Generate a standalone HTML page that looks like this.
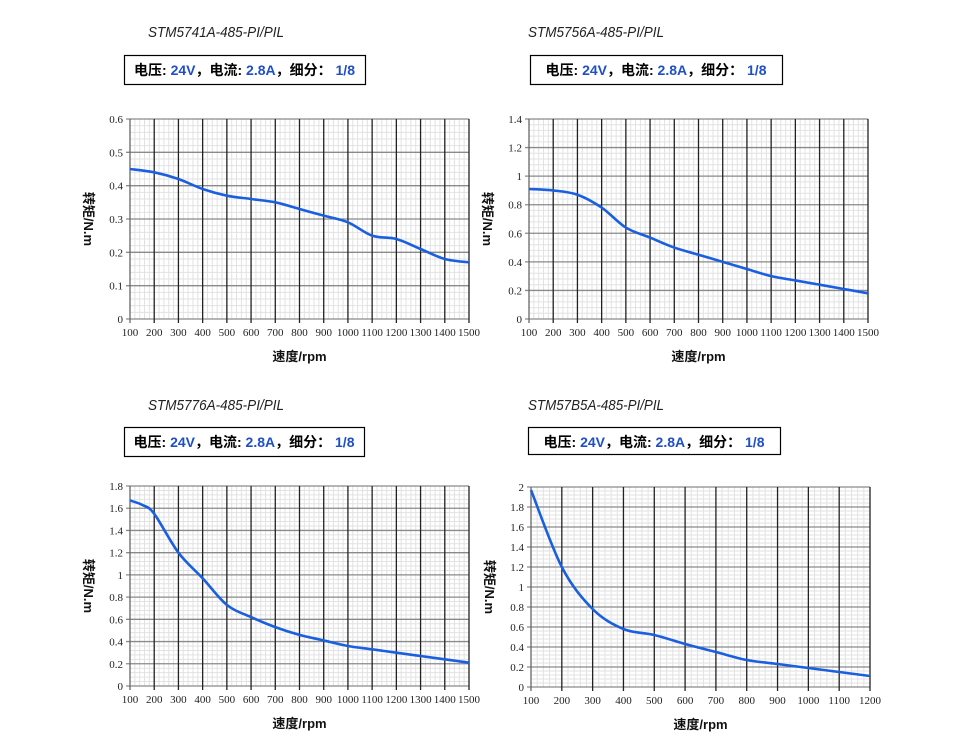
<!DOCTYPE html>
<html><head><meta charset="utf-8"><style>
body{margin:0;background:#fff;width:957px;height:752px;overflow:hidden}
svg{display:block}
</style></head><body>
<svg id="s" width="957" height="752" xmlns="http://www.w3.org/2000/svg"></svg>
<script>
const CJK='"Liberation Sans","Noto Sans CJK SC",sans-serif';
const charts=[
 {t:"STM5741A-485-PI/PIL",tx:148,ty:37,bx:124,by:55,bw:241,bh:29,x0:130,x1:469,y0:119,y1:319,xmin:100,xmax:1500,ymax:0.6,ystep:0.1,ylab:v=>(+v.toFixed(1)).toString(),
  d:[[100,.45],[200,.44],[300,.42],[400,.39],[500,.37],[600,.36],[700,.35],[800,.33],[900,.31],[1000,.29],[1100,.25],[1200,.24],[1300,.21],[1400,.18],[1500,.17]]},
 {t:"STM5756A-485-PI/PIL",tx:528,ty:37,bx:530,by:55,bw:252,bh:29,x0:529,x1:868,y0:119,y1:319,xmin:100,xmax:1500,ymax:1.4,ystep:0.2,ylab:v=>(+v.toFixed(1)).toString(),
  d:[[100,.91],[200,.9],[300,.87],[400,.78],[500,.64],[600,.57],[700,.5],[800,.45],[900,.4],[1000,.35],[1100,.3],[1200,.27],[1300,.24],[1400,.21],[1500,.18]]},
 {t:"STM5776A-485-PI/PIL",tx:148,ty:410,bx:124,by:427,bw:240,bh:29,x0:130,x1:469,y0:486,y1:686,xmin:100,xmax:1500,ymax:1.8,ystep:0.2,ylab:v=>(+v.toFixed(1)).toString(),
  d:[[100,1.67],[150,1.63],[200,1.55],[300,1.2],[400,.97],[500,.73],[600,.62],[700,.53],[800,.46],[900,.41],[1000,.36],[1100,.33],[1200,.3],[1300,.27],[1400,.24],[1500,.21]]},
 {t:"STM57B5A-485-PI/PIL",tx:528,ty:410,bx:528,by:427,bw:252,bh:27,x0:531,x1:870,y0:487,y1:687,xmin:100,xmax:1200,ymax:2,ystep:0.2,ylab:v=>(+v.toFixed(1)).toString(),
  d:[[100,1.97],[200,1.2],[300,.78],[400,.58],[500,.52],[600,.43],[700,.35],[800,.27],[900,.23],[1000,.19],[1100,.15],[1200,.11]]}
];
let h='';
for(const c of charts){
 const X=v=>c.x0+(v-c.xmin)/(c.xmax-c.xmin)*(c.x1-c.x0);
 const Y=v=>c.y1-v/c.ymax*(c.y1-c.y0);
 h+=`<text x="${c.tx}" y="${c.ty}" font-family="Liberation Sans,sans-serif" font-style="italic" font-size="15" fill="#222" textLength="${136}" lengthAdjust="spacingAndGlyphs">${c.t}</text>`;
 h+=`<rect x="${c.bx+.5}" y="${c.by+.5}" width="${c.bw}" height="${c.bh}" fill="none" stroke="#000" stroke-width="1.2"/>`;
 h+=`<text x="${c.bx+c.bw/2}" y="${c.by+20}" text-anchor="middle" font-family='${CJK}' font-weight="bold" font-size="14" fill="#000">电压: <tspan fill="#1f4fc8">24V</tspan>，电流: <tspan fill="#1f4fc8">2.8A</tspan>，细分： <tspan fill="#1f4fc8">1/8</tspan></text>`;
 const nx=(c.xmax-c.xmin)/100, ny=Math.round(c.ymax/c.ystep);
 // minor grid
 for(let i=0;i<nx*5;i++){if(i%5)h+=`<line x1="${X(c.xmin+i*20)}" x2="${X(c.xmin+i*20)}" y1="${c.y0}" y2="${c.y1}" stroke="#e2e2e2" stroke-width="1"/>`;}
 for(let i=0;i<ny*5;i++){if(i%5){const y=Y(i*c.ystep/5);h+=`<line x1="${c.x0}" x2="${c.x1}" y1="${y}" y2="${y}" stroke="#e2e2e2" stroke-width="1"/>`;}}
 for(let i=0;i<=ny;i++){const v=i*c.ystep,y=Y(v);h+=`<line x1="${c.x0-4}" x2="${c.x1}" y1="${y}" y2="${y}" stroke="#8a8a8a" stroke-width="1.3"/>`;
  h+=`<text x="${c.x0-7}" y="${y+4}" text-anchor="end" font-family="Liberation Serif,serif" font-size="11" fill="#222">${c.ylab(v)}</text>`;}
 for(let i=0;i<=nx;i++){const v=c.xmin+i*100,x=X(v);h+=`<line x1="${x}" x2="${x}" y1="${c.y0}" y2="${c.y1+4}" stroke="${i==0?'#666':'#222'}" stroke-width="1.3"/>`;
  h+=`<text x="${x}" y="${c.y1+17}" text-anchor="middle" font-family="Liberation Serif,serif" font-size="11" fill="#222">${v}</text>`;}
 // curve catmull-rom
 const p=c.d.map(([a,b])=>[X(a),Y(b)]);let s=`M${p[0][0]},${p[0][1]}`;
 for(let i=0;i<p.length-1;i++){const a=p[i-1]||p[i],b=p[i],e=p[i+1],f=p[i+2]||e;
  s+=` C${b[0]+(e[0]-a[0])/6},${b[1]+(e[1]-a[1])/6} ${e[0]-(f[0]-b[0])/6},${e[1]-(f[1]-b[1])/6} ${e[0]},${e[1]}`;}
 h+=`<path d="${s}" fill="none" stroke="#1a5fe0" stroke-width="2.6" stroke-linejoin="round"/>`;
 const cx=(c.x0+c.x1)/2,cy=(c.y0+c.y1)/2;
 h+=`<text x="${cx}" y="${c.y1+42}" text-anchor="middle" font-family='${CJK}' font-weight="bold" font-size="13" fill="#111">速度/rpm</text>`;
 h+=`<text transform="translate(${c.x0-46},${cy}) rotate(90)" text-anchor="middle" font-family='${CJK}' font-weight="bold" font-size="13" fill="#111">转矩/N.m</text>`;
}
document.getElementById('s').innerHTML=h;
</script>
</body></html>
